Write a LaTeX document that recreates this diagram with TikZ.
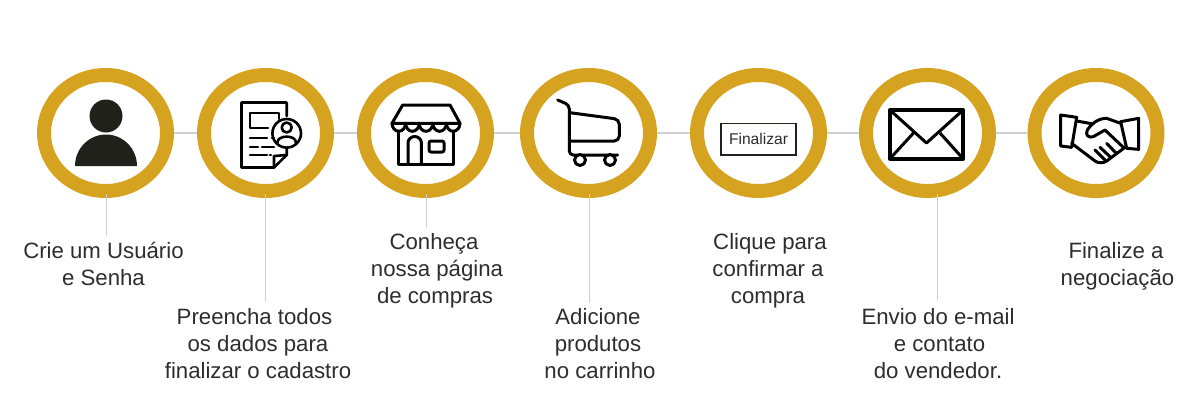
\documentclass[tikz,border=0pt]{standalone}
\usepackage{fontspec}
\setmainfont{Liberation Sans}
\usetikzlibrary{shapes.geometric}
\definecolor{gold}{RGB}{214,163,33}
\definecolor{softline}{RGB}{208,208,208}
\definecolor{inkdark}{RGB}{33,33,27}
\definecolor{captiontext}{RGB}{45,45,45}
\tikzset{
  ring/.style={ellipse,draw=gold,fill=white,line width=14pt,minimum width=123pt,minimum height=116pt,inner sep=0pt},
  link/.style={softline,line width=1.4pt},
  caption/.style={captiontext,font=\fontsize{22.2}{27}\selectfont,align=center,inner sep=0pt},
  icon/.style={black,line width=3pt,line join=round,line cap=round}
}
\begin{document}
\begin{tikzpicture}[x=1pt,y=-1pt]
  \useasboundingbox (0,0) rectangle (1200,405);
  \foreach \n/\x in {1/105.5,2/265.5,3/425.5,4/588.5,5/758.5,6/927.5,7/1096}
    \node[ring] (r\n) at (\x,133) {};
  \foreach \a/\b in {1/2,2/3,3/4,4/5,5/6,6/7} \draw[link] (r\a.east) -- (r\b.west);
  \node[caption] (c1) at (103.5,264) {Crie um Usuário\\e Senha};
  \node[caption] (c2) at (258,344) {\hspace*{-7pt}Preencha todos\\os dados para\\finalizar o cadastro};
  \node[caption] (c3) at (437,271) {\hspace*{-6pt}Conheça\\nossa página\\\hspace*{-4pt}de compras};
  \node[caption] (c4) at (598,344) {Adicione\\produtos\\\hspace*{4pt}no carrinho};
  \node[caption] (c5) at (768,271) {\hspace*{4pt}Clique para\\confirmar a\\compra};
  \node[caption] (c6) at (938,344) {Envio do e-mail\\\hspace*{3pt}e contato\\do vendedor.};
  \node[caption] (c7) at (1116,266) {Finalize a\\\hspace*{3pt}negociação};
  \foreach \n/\x/\y in {1/106/236,2/265.7/302,3/426.7/228,4/589/303,6/937.7/300} {
    \coordinate (e\n) at (\x,\y);
    \draw[link,line width=1pt] ([yshift=4pt]r\n.south -| e\n) -- (e\n);
  }
  % user
  \fill[inkdark] (106,116) circle (16.5);
  \fill[inkdark] (75,166) arc[start angle=180,end angle=0,x radius=31,y radius=-31.5] -- cycle;
  % form
  \begin{scope}[icon,line width=2.6pt]
    \draw (286.7,116) -- (286.7,102.5) -- (241.5,102.5) -- (241.5,167.5) -- (274,167.5) -- (286.7,155) -- (286.7,149);
    \draw (274,167.5) -- (274,156) -- (286.7,155);
    \draw (279,119) -- (279,113) -- (250,113) -- (250,128) -- (268,128);
    \draw (250,138) -- (267,138) (272,138) -- (274,138) (250,147) -- (258,147) (262,147) -- (274,147)
      (250,155) -- (267,155) (270,155) -- (271,155);
    \draw (286.7,133.3) circle (14.3);
    \draw (286.7,127.5) circle (5);
    \draw (277.5,143) .. controls (276.5,134.5) and (296.9,134.5) .. (295.9,143);
  \end{scope}
  % store
  \begin{scope}[icon]
    \draw (392,123.3) -- (402.7,105) -- (450,105) -- (460,123.3) -- cycle;
    \foreach \sx in {392,405.6,419.2,432.8,446.4}
      \draw (\sx,123.3) arc[start angle=180,end angle=0,x radius=6.8,y radius=8];
    \draw (398.3,131) -- (398.3,164.3) -- (453.3,164.3) -- (453.3,131);
    \draw (408,164.3) -- (408,143) arc[start angle=180,end angle=0,x radius=6.7,y radius=-6.5] -- (421.4,164.3);
    \draw[rounded corners=2pt] (429,141) rectangle (444,152);
  \end{scope}
  % cart
  \begin{scope}[icon]
    \draw[rounded corners=4pt] (557.7,100) -- (569.3,105) -- (569.3,155) -- (617.7,155);
    \draw[rounded corners=5pt] (570,112.7) -- (619.3,119.3) -- (619.3,141) -- (570,141);
    \draw[fill=white] (580,160) circle (5.5) (610,160) circle (5.5);
  \end{scope}
  % button
  \node[draw=inkdark,line width=1.4pt,minimum width=75pt,minimum height=31.5pt,inner sep=0pt,text=captiontext,font=\fontsize{15.6}{16}\selectfont] (btn) at (758.5,139.2) {Finalizar};
  % envelope
  \begin{scope}[icon,line width=4pt,line cap=butt]
    \draw (890,110) rectangle (963.3,158.7);
    \draw[line width=3pt] (891,111) -- (926.5,143) -- (962,111);
    \draw[line width=3pt] (891,157.5) -- (913.5,133) (962,157.5) -- (940,133);
  \end{scope}
  % handshake
  \begin{scope}[icon,shift={(850,60)},scale=1/3]
    \draw (632,165) -- (680,172) -- (665,262) -- (632,258) -- cycle;
    \draw (866,175) -- (812,185) -- (830,265) -- (866,268) -- cycle;
    \draw (680,183) -- (730,192);
    \draw (812,190) -- (770,175) .. controls (745,175) and (725,190) .. (712,210) .. controls (705,225) and (715,235) .. (730,230) -- (765,210) -- (820,262);
    \draw (665,250) -- (735,303) .. controls (745,310) and (760,310) .. (770,303) -- (825,262);
    \draw (735,270) -- (765,300) (750,262) -- (780,290) (770,250) -- (797,278);
  \end{scope}
\end{tikzpicture}
\end{document}
